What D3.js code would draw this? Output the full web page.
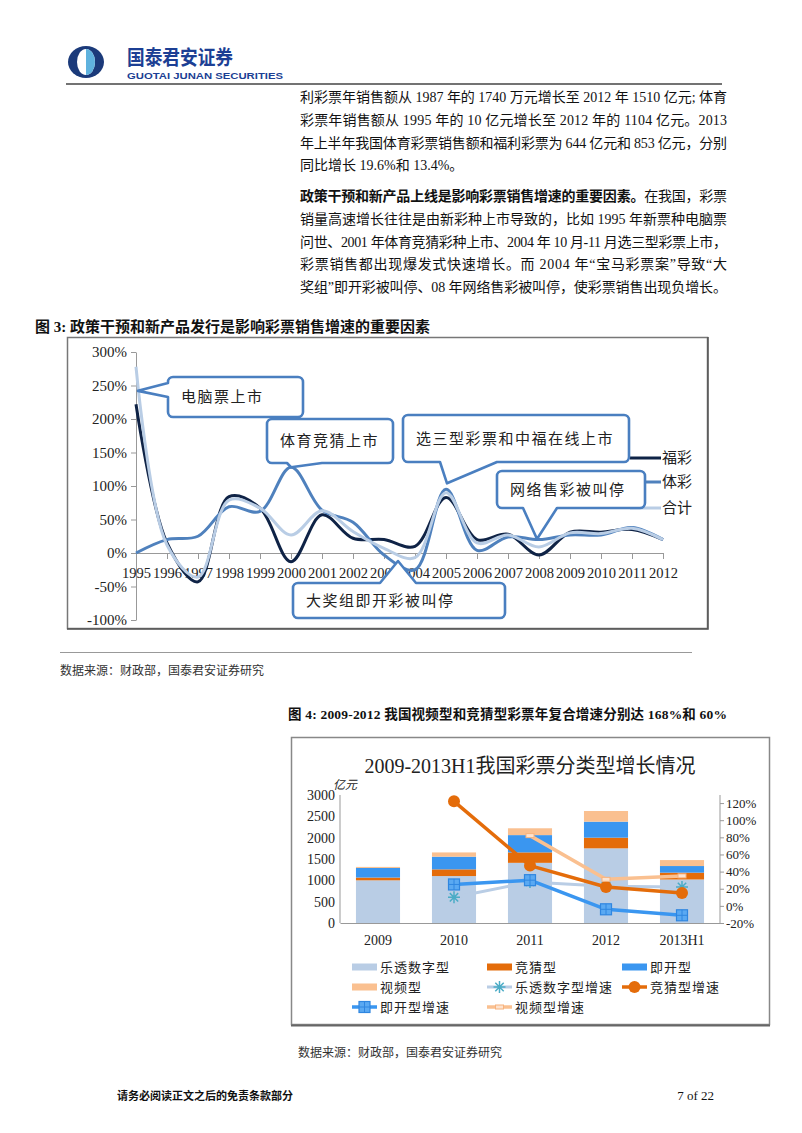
<!DOCTYPE html>
<html><head><meta charset="utf-8">
<script src="https://cdn.jsdelivr.net/npm/d3@7"></script>
<style>body{margin:0;background:#fff}svg{display:block}</style>
</head><body><svg id="pg" width="802" height="1133"></svg>
<script>
// ---------- Figure 3 data ----------
const years = ["1995","1996","1997","1998","1999","2000","2001","2002","2003","2004","2005","2006","2007","2008","2009","2010","2011","2012"];
const fucai = [222, 15, -43, 84, 67, -13, 57, 22, 20, 10, 83, 20, 28, -3, 31, 31, 35, 20];
const ticai = [0, 20, 25, 69, 62, 128, 64, 46, -3, -25, 95, 4, 24, 20, 27, 27, 38, 20];
const heji  = [278, 12, -36, 79, 67, 27, 63, 32, 7, -7, 90, 15, 27, 9, 30, 29, 37, 20];
const names3 = ["福彩", "体彩", "合计"];
const yTicks3 = [300, 250, 200, 150, 100, 50, 0, -50, -100];

// ---------- Figure 4 data ----------
const cats4 = ["2009", "2010", "2011", "2012", "2013H1"];
const ltsz = [1000, 1100, 1410, 1750, 1020];   // 乐透数字型
const jcx  = [65, 157, 245, 250, 160];          // 竞猜型
const jkx  = [225, 297, 405, 375, 155];         // 即开型
const spx  = [25, 100, 160, 250, 140];          // 视频型
const ltszG = [null, 10, 28, 23, 22];           // 乐透数字型增速
const jcxG  = [null, 122, 47, 22, 15];          // 竞猜型增速
const jkxG  = [null, 25, 30, -4, -11];          // 即开型增速
const spxG  = [null, null, 82, 31, 35];         // 视频型增速
const barNames = ["乐透数字型", "竞猜型", "即开型", "视频型"];
const lineNames = ["乐透数字型增速", "竞猜型增速", "即开型增速", "视频型增速"];
const leftTicks4 = [0, 500, 1000, 1500, 2000, 2500, 3000];
const rightTicks4 = [-20, 0, 20, 40, 60, 80, 100, 120];

// ---------- page text ----------
const para1 = [
  "利彩票年销售额从 1987 年的 1740 万元增长至 2012 年 1510 亿元; 体育",
  "彩票年销售额从 1995 年的 10 亿元增长至 2012 年的 1104 亿元。2013",
  "年上半年我国体育彩票销售额和福利彩票为 644 亿元和 853 亿元，分别",
  "同比增长 19.6%和 13.4%。"
];
const para2Bold = "政策干预和新产品上线是影响彩票销售增速的重要因素。";
const para2Head = "在我国，彩票";
const para2 = [
  "销量高速增长往往是由新彩种上市导致的，比如 1995 年新票种电脑票",
  "问世、2001 年体育竞猜彩种上市、2004 年 10 月-11 月选三型彩票上市，",
  "彩票销售都出现爆发式快速增长。而 2004 年“宝马彩票案”导致“大",
  "奖组”即开彩被叫停、08 年网络售彩被叫停，使彩票销售出现负增长。"
];

const serif = "'Liberation Serif','Noto Sans CJK SC',serif";
const svg = d3.select("#pg");
svg.append("rect").attr("width", 802).attr("height", 1133).attr("fill", "#fff");

// ---------- header ----------
const logo = svg.append("g").attr("transform", "translate(86,62)");
logo.append("ellipse").attr("rx", 18).attr("ry", 16).attr("fill", "#1b3a7a");
logo.append("ellipse").attr("rx", 9).attr("ry", 13).attr("fill", "#fff");
logo.append("path").attr("d", "M0,-13 A9,13 0 0 1 0,13 Z").attr("fill", "#5fb2de");
svg.append("text").attr("x", 127).attr("y", 65).attr("font-family", "'Noto Sans CJK SC'")
  .attr("font-weight", "bold").attr("font-size", 20).attr("fill", "#1c3f94")
  .attr("textLength", 106).attr("lengthAdjust", "spacingAndGlyphs").text("国泰君安证券");
svg.append("text").attr("x", 127).attr("y", 79).attr("font-family", "'Liberation Sans',Arial,sans-serif")
  .attr("font-weight", "bold").attr("font-size", 9.5).attr("fill", "#1c3f94")
  .attr("textLength", 156).attr("lengthAdjust", "spacingAndGlyphs").text("GUOTAI JUNAN SECURITIES");
svg.append("line").attr("x1", 66).attr("x2", 722).attr("y1", 84).attr("y2", 84)
  .attr("stroke", "#444").attr("stroke-width", 1.6);

// ---------- paragraphs ----------
const lh = 22.8;
para1.forEach((s, i) => {
  const t = svg.append("text").attr("x", 300).attr("y", 102 + i * lh)
    .attr("font-family", serif).attr("font-size", 14).attr("fill", "#111").text(s);
  if (i < para1.length - 1) t.attr("textLength", 427).attr("lengthAdjust", "spacing");
});
const p2y = 201;
{
  const t = svg.append("text").attr("x", 300).attr("y", p2y)
    .attr("font-family", serif).attr("font-size", 14).attr("fill", "#111")
    .attr("textLength", 427).attr("lengthAdjust", "spacing");
  t.append("tspan").attr("font-weight", "bold").text(para2Bold);
  t.append("tspan").text(para2Head);
}
para2.forEach((s, i) => {
  svg.append("text").attr("x", 300).attr("y", p2y + (i + 1) * lh)
    .attr("font-family", serif).attr("font-size", 14).attr("fill", "#111")
    .attr("textLength", 427).attr("lengthAdjust", "spacing").text(s);
});

// ---------- Figure 3 ----------
svg.append("text").attr("x", 35).attr("y", 332).attr("font-family", serif).attr("font-weight", "bold")
  .attr("font-size", 14.5).attr("fill", "#111").attr("textLength", 395).attr("lengthAdjust", "spacingAndGlyphs")
  .text("图 3: 政策干预和新产品发行是影响彩票销售增速的重要因素");
svg.append("rect").attr("x", 67.5).attr("y", 337.5).attr("width", 640).attr("height", 291)
  .attr("fill", "#fff").attr("stroke", "#777").attr("stroke-width", 1.5);
svg.append("path").attr("d", "M67,629 H708 V337").attr("fill", "none").attr("stroke", "#555").attr("stroke-width", 1.5);

const x3 = d3.scalePoint().domain(years).range([136, 663]);
const y3 = d3.scaleLinear().domain([-100, 300]).range([620, 352]);
const g3 = svg.append("g");

const ya3 = g3.append("g").attr("transform", "translate(136,0)")
  .call(d3.axisLeft(y3).tickValues(yTicks3).tickFormat(d => d + "%").tickSizeInner(5).tickSizeOuter(0).tickPadding(4));
const xa3 = g3.append("g").attr("transform", `translate(0,${y3(0)})`)
  .call(d3.axisBottom(x3).tickSizeInner(6).tickSizeOuter(0).tickPadding(9));
[ya3, xa3].forEach(a => {
  a.selectAll("path,line").attr("stroke", "#999");
  a.selectAll("text").attr("font-family", serif).attr("font-size", 15).attr("fill", "#222");
});
xa3.selectAll("text").attr("font-size", 14.5);

const line3 = d3.line().x((d, i) => x3(years[i])).y(d => y3(d)).curve(d3.curveCatmullRom.alpha(0.5));
const series3 = [fucai, ticai, heji];
const colors3 = ["#0f2346", "#4f81bd", "#b9cde5"];
series3.forEach((s, k) => {
  g3.append("path").datum(s).attr("d", line3).attr("fill", "none")
    .attr("stroke", colors3[k]).attr("stroke-width", 3).attr("stroke-linejoin", "round");
});
const legY3 = [458, 482, 508];
names3.forEach((n, k) => {
  g3.append("line").attr("x1", 630).attr("x2", 661).attr("y1", legY3[k]).attr("y2", legY3[k])
    .attr("stroke", colors3[k]).attr("stroke-width", 3);
  g3.append("text").attr("x", 662).attr("y", legY3[k] + 5).attr("font-family", serif)
    .attr("font-size", 15).attr("fill", "#222").text(n);
});

// callouts
const callouts = [
  {text: "电脑票上市", box: [168, 377, 135, 40], side: "left", base: [383, 397], year: "1995", v: 242, dx: 2},
  {text: "体育竞猜上市", box: [267, 419, 126, 44], side: "bottom", base: [287, 322], year: "2000", v: 128, dx: 0},
  {text: "选三型彩票和中福在线上市", box: [403, 415, 226, 47], side: "bottom", base: [440, 497], year: "2005", v: 104, dx: 1},
  {text: "网络售彩被叫停", box: [497, 471, 148, 37], side: "bottom", base: [523, 557], year: "2008", v: 21, dx: -2},
  {text: "大奖组即开彩被叫停", box: [293, 583, 212, 35], side: "top", base: [380, 416], year: "2003", v: -12, dx: 14}
];
function calloutPath(c) {
  const [x, y, w, h] = c.box, r = 5;
  const tx = x3(c.year) + c.dx, ty = y3(c.v);
  const [b1, b2] = c.base;
  const p = d3.path();
  p.moveTo(x + r, y);
  if (c.side === "top") { p.lineTo(b1, y); p.lineTo(tx, ty); p.lineTo(b2, y); }
  p.lineTo(x + w - r, y);
  p.arcTo(x + w, y, x + w, y + r, r);
  p.lineTo(x + w, y + h - r);
  p.arcTo(x + w, y + h, x + w - r, y + h, r);
  if (c.side === "bottom") { p.lineTo(b2, y + h); p.lineTo(tx, ty); p.lineTo(b1, y + h); }
  p.lineTo(x + r, y + h);
  p.arcTo(x, y + h, x, y + h - r, r);
  if (c.side === "left") { p.lineTo(x, b2); p.lineTo(tx, ty); p.lineTo(x, b1); }
  p.lineTo(x, y + r);
  p.arcTo(x, y, x + r, y, r);
  p.closePath();
  return p.toString();
}
callouts.forEach(c => {
  g3.append("path").attr("d", calloutPath(c)).attr("fill", "#fff")
    .attr("stroke", "#4a7fc0").attr("stroke-width", 2.6).attr("stroke-linejoin", "round");
  g3.append("text").attr("x", c.box[0] + 13).attr("y", c.box[1] + c.box[3] / 2 + 5)
    .attr("font-family", serif).attr("font-size", 15).attr("letter-spacing", 1.5)
    .attr("fill", "#222").text(c.text);
});

svg.append("line").attr("x1", 60).attr("x2", 692).attr("y1", 652.5).attr("y2", 652.5)
  .attr("stroke", "#999").attr("stroke-width", 1);
svg.append("text").attr("x", 60).attr("y", 675).attr("font-family", serif).attr("font-size", 12)
  .attr("fill", "#333").text("数据来源：财政部，国泰君安证券研究");

// ---------- Figure 4 ----------
svg.append("text").attr("x", 288).attr("y", 719).attr("font-family", serif).attr("font-weight", "bold")
  .attr("font-size", 13.5).attr("fill", "#111").attr("textLength", 439).attr("lengthAdjust", "spacing")
  .text("图 4:  2009-2012  我国视频型和竞猜型彩票年复合增速分别达 168%和 60%");
svg.append("rect").attr("x", 291.5).attr("y", 737.5).attr("width", 478).attr("height", 287)
  .attr("fill", "#fff").attr("stroke", "#888").attr("stroke-width", 1.5);
svg.append("line").attr("x1", 291).attr("x2", 770).attr("y1", 1025.5).attr("y2", 1025.5)
  .attr("stroke", "#666").attr("stroke-width", 2);

svg.append("text").attr("x", 530).attr("y", 773).attr("text-anchor", "middle").attr("font-family", serif)
  .attr("font-size", 20).attr("fill", "#222").text("2009-2013H1我国彩票分类型增长情况");

const x4 = d3.scaleBand().domain(cats4).range([340, 720]).paddingInner(0.42).paddingOuter(0.21);
const yL = d3.scaleLinear().domain([0, 3000]).range([923, 795]);
const yR = d3.scaleLinear().domain([-20, 130]).range([923, 794.5]);
const g4 = svg.append("g");

const la = g4.append("g").attr("transform", "translate(340,0)")
  .call(d3.axisLeft(yL).tickValues(leftTicks4).tickFormat(d3.format("d")).tickSizeInner(0).tickSizeOuter(0).tickPadding(5));
const ra = g4.append("g").attr("transform", "translate(720,0)")
  .call(d3.axisRight(yR).tickValues(rightTicks4).tickFormat(d => d + "%").tickSizeInner(4).tickSizeOuter(0).tickPadding(2));
const ba = g4.append("g").attr("transform", "translate(0,923)")
  .call(d3.axisBottom(x4).tickSize(0).tickPadding(12));
[la, ra, ba].forEach(a => {
  a.selectAll("path,line").attr("stroke", "#999");
  a.selectAll("text").attr("font-family", serif).attr("font-size", 14).attr("fill", "#222");
});
ra.selectAll("text").attr("font-size", 13);
la.select("path").attr("d", "M0,795V923");
ra.select("path").attr("d", "M0,795V923");
g4.append("text").attr("x", 333).attr("y", 789).attr("font-family", serif).attr("font-size", 12)
  .attr("fill", "#222").attr("font-style", "italic").text("亿元");

const barCols = ["#b9cde5", "#e46c0a", "#3a96f0", "#fac090"];
const rows4 = cats4.map((c, i) => ({cat: c, a: ltsz[i], b: jcx[i], c2: jkx[i], d: spx[i]}));
const stack4 = d3.stack().keys(["a", "b", "c2", "d"])(rows4);
stack4.forEach((layer, k) => {
  g4.append("g").selectAll("rect").data(layer).join("rect")
    .attr("x", d => x4(d.data.cat)).attr("width", x4.bandwidth())
    .attr("y", d => yL(d[1])).attr("height", d => yL(d[0]) - yL(d[1]))
    .attr("fill", barCols[k]);
});

const lineSeries = [ltszG, jcxG, jkxG, spxG];
const lineCols = ["#b9cde5", "#e46c0a", "#3a96f0", "#fac090"];
const lineW = [3, 3.5, 3.5, 3.5];
const cx = c => x4(c) + x4.bandwidth() / 2;
function marker(g, k, x, y) {
  if (k === 0) {
    const s = 6;
    g.append("path").attr("d", `M${x - s},${y}H${x + s}M${x - s * .7},${y - s * .7}L${x + s * .7},${y + s * .7}M${x - s * .7},${y + s * .7}L${x + s * .7},${y - s * .7}M${x},${y - s}V${y + s}`)
      .attr("stroke", "#4bacc6").attr("stroke-width", 1.5).attr("fill", "none");
  } else if (k === 1) {
    g.append("circle").attr("cx", x).attr("cy", y).attr("r", 6).attr("fill", "#e46c0a");
  } else if (k === 2) {
    g.append("rect").attr("x", x - 5.5).attr("y", y - 5.5).attr("width", 11).attr("height", 11)
      .attr("fill", "#5aa9f2").attr("stroke", "#2f86e0").attr("stroke-width", 1.2);
    g.append("path").attr("d", `M${x},${y - 5.5}V${y + 5.5}M${x - 5.5},${y}H${x + 5.5}`).attr("stroke", "#2f86e0").attr("stroke-width", 1);
  } else {
    g.append("rect").attr("x", x - 4).attr("y", y - 2).attr("width", 8).attr("height", 4)
      .attr("fill", "#fde3cf").attr("stroke", "#f7b27c").attr("stroke-width", 1);
  }
}
lineSeries.forEach((s, k) => {
  const ln = d3.line().defined(d => d !== null).x((d, i) => cx(cats4[i])).y(d => yR(d));
  g4.append("path").datum(s).attr("d", ln).attr("fill", "none").attr("stroke", lineCols[k])
    .attr("stroke-width", lineW[k]).attr("stroke-linejoin", "round");
  s.forEach((v, i) => { if (v !== null) marker(g4, k, cx(cats4[i]), yR(v)); });
});

const legItems = [
  {n: barNames[0], t: "bar", c: barCols[0]}, {n: barNames[1], t: "bar", c: barCols[1]}, {n: barNames[2], t: "bar", c: barCols[2]},
  {n: barNames[3], t: "bar", c: barCols[3]}, {n: lineNames[0], t: "line", k: 0}, {n: lineNames[1], t: "line", k: 1},
  {n: lineNames[2], t: "line", k: 2}, {n: lineNames[3], t: "line", k: 3}
];
const legX = [352, 487, 622], legYs = [967, 987, 1007];
legItems.forEach((it, i) => {
  const x = legX[i % 3], y = legYs[Math.floor(i / 3)];
  if (it.t === "bar") {
    g4.append("rect").attr("x", x).attr("y", y - 3.5).attr("width", 25).attr("height", 7).attr("fill", it.c);
  } else {
    g4.append("line").attr("x1", x).attr("x2", x + 25).attr("y1", y).attr("y2", y)
      .attr("stroke", lineCols[it.k]).attr("stroke-width", lineW[it.k]);
    marker(g4, it.k, x + 12.5, y);
  }
  g4.append("text").attr("x", x + 28).attr("y", y + 5).attr("font-family", serif).attr("font-size", 13)
    .attr("letter-spacing", 1).attr("fill", "#222").text(it.n);
});

svg.append("text").attr("x", 298).attr("y", 1057).attr("font-family", serif).attr("font-size", 12)
  .attr("fill", "#333").text("数据来源：财政部，国泰君安证券研究");

// ---------- footer ----------
svg.append("text").attr("x", 117).attr("y", 1100).attr("font-family", serif).attr("font-weight", "bold")
  .attr("font-size", 11).attr("fill", "#111").text("请务必阅读正文之后的免责条款部分");
svg.append("text").attr("x", 714).attr("y", 1100).attr("text-anchor", "end").attr("font-family", serif)
  .attr("font-size", 13).attr("fill", "#111").text("7 of 22");
</script>
</body></html>
